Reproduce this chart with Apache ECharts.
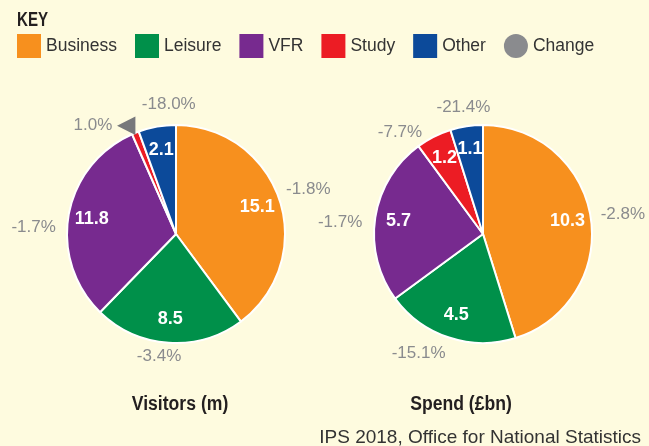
<!DOCTYPE html>
<html>
<head>
<meta charset="utf-8">
<script src="https://cdn.jsdelivr.net/npm/echarts@6/dist/echarts.min.js"></script>
<style>
  html, body { margin: 0; padding: 0; background: #FEFBDF; }
  #chart { width: 649px; height: 446px; }
</style>
</head>
<body>
<div id="chart"></div>
<script>
const categories = ['Business', 'Leisure', 'VFR', 'Study', 'Other'];
const visitors = [15.1, 8.5, 11.8, 0.4, 2.1];
const visitorsChange = [-1.8, -3.4, -1.7, 1.0, -18.0];
const spend = [10.3, 4.5, 5.7, 1.2, 1.1];
const spendChange = [-2.8, -15.1, -1.7, -7.7, -21.4];

const colors = ['#F7901E', '#00904A', '#772A8F', '#EC1C24', '#0C4A9A'];
const changeColor = '#8A8B8E';
const R = 109;
const sans = '"Liberation Sans", Arial, sans-serif';

// small nudges for the change labels, [dx, dy] by slice index
const visitorsNudge = { 0: [-6, -8], 1: [18, 6], 2: [0, 14], 3: [8, 0], 4: [45, -14] };
const spendNudge = { 0: [-3, -2], 1: [4, 8], 2: [0, 6], 3: [-3, 3], 4: [30, -11] };

function fmtChange(v) {
  return v.toFixed(1) + '%';
}

function makePies(values, changes, center, nudge) {
  const main = {
    type: 'pie',
    center: center,
    radius: [0, R],
    startAngle: 90,
    clockwise: true,
    avoidLabelOverlap: false,
    emphasis: { disabled: true },
    itemStyle: { borderColor: '#fff', borderWidth: 2 },
    label: {
      position: 'outside',
      fontFamily: sans,
      fontSize: 17,
      color: changeColor,
      formatter: p => {
        const t = fmtChange(changes[p.dataIndex]);
        return changes[p.dataIndex] > 0 ? t + ' {tri|◀}' : t;
      },
      rich: {
        tri: { fontSize: 24, color: '#77787B', fontFamily: 'DejaVu Sans' }
      }
    },
    labelLine: { show: false, length: 8, length2: 0 },
    labelLayout: p => {
      const d = nudge[p.dataIndex];
      return d ? { dx: d[0], dy: d[1] } : {};
    },
    data: categories.map((c, i) => ({
      name: c,
      value: values[i],
      itemStyle: { color: colors[i] }
    }))
  };
  const inner = {
    type: 'pie',
    center: center,
    radius: [56, R],
    startAngle: 90,
    clockwise: true,
    silent: true,
    itemStyle: { color: 'transparent' },
    label: {
      position: 'inside',
      fontFamily: sans,
      fontWeight: 'bold',
      fontSize: 18,
      color: '#fff',
      textBorderWidth: 0,
      formatter: p => (p.value >= 1 ? p.value.toFixed(1) : '')
    },
    labelLine: { show: false },
    data: categories.map((c, i) => ({ name: c, value: values[i] }))
  };
  return [main, inner];
}

const chart = echarts.init(document.getElementById('chart'));

chart.setOption({
  backgroundColor: '#FEFBDF',
  animation: false,
  legend: {
    left: 12,
    top: 29,
    itemWidth: 24,
    itemHeight: 24,
    itemGap: 18,
    icon: 'rect',
    selectedMode: false,
    itemStyle: { borderWidth: 0 },
    textStyle: {
      fontFamily: sans,
      fontSize: 17.5,
      lineHeight: 14,
      color: '#333',
      padding: [10, 0, 0, 0]
    },
    data: categories.concat([{ name: 'Change', icon: 'circle' }])
  },
  graphic: [
    { type: 'text', x: 17, y: 10, scaleX: 0.72, style: { text: 'KEY', font: 'bold 21px ' + sans, fill: '#231F20' } },
    { type: 'text', x: 180, y: 394, scaleX: 0.88, style: { text: 'Visitors (m)', align: 'center', font: 'bold 20px ' + sans, fill: '#231F20' } },
    { type: 'text', x: 461, y: 394, scaleX: 0.88, style: { text: 'Spend (£bn)', align: 'center', font: 'bold 20px ' + sans, fill: '#231F20' } },
    { type: 'text', x: 641, y: 428, style: { text: 'IPS 2018, Office for National Statistics', align: 'right', font: '19px ' + sans, fill: '#333' } }
  ],
  series: [
    ...makePies(visitors, visitorsChange, [176, 234], visitorsNudge),
    ...makePies(spend, spendChange, [483, 234], spendNudge),
    {
      type: 'pie',
      center: [0, 0],
      radius: [0, 0],
      silent: true,
      label: { show: false },
      labelLine: { show: false },
      data: [{ name: 'Change', value: 0, itemStyle: { color: changeColor } }]
    }
  ]
});
</script>
</body>
</html>
